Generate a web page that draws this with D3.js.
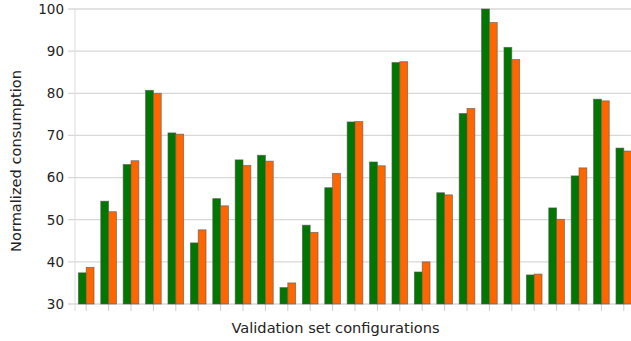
<!DOCTYPE html>
<html>
<head>
<meta charset="utf-8">
<script src="https://cdn.jsdelivr.net/npm/d3@7"></script>
<style>
  html, body { margin: 0; padding: 0; background: #fff; overflow: hidden; }
  svg { display: block; font-family: "DejaVu Sans", sans-serif; }
</style>
</head>
<body>
<svg id="chart" width="631" height="341"></svg>
<script>
const categories = d3.range(1, 26).map(String);
const seriesNames = ["A", "B"];
const seriesA = [37.4, 54.4, 63.1, 80.7, 70.6, 44.5, 55.0, 64.2, 65.3, 33.9, 48.7, 57.6, 73.2,
                 63.7, 87.3, 37.6, 56.4, 75.2, 100.0, 90.9, 36.9, 52.8, 60.4, 78.6, 67.0];
const seriesB = [38.7, 51.9, 64.0, 80.0, 70.3, 47.6, 53.3, 62.9, 63.9, 35.0, 47.0, 61.0, 73.3,
                 62.8, 87.5, 40.0, 55.9, 76.4, 96.8, 88.0, 37.1, 50.1, 62.3, 78.2, 66.3];
const yTicks = [30, 40, 50, 60, 70, 80, 90, 100];
const colors = ["#007700", "#ff6600"];

const svg = d3.select("#chart");
const mLeft = 75, mRight = 635, mTop = 9, mBottom = 304;

const x0 = d3.scaleBand().domain(categories).range([mLeft, mRight]).padding(0);
const x1 = d3.scaleBand().domain(seriesNames)
  .range([x0.bandwidth() * 0.15, x0.bandwidth() * 0.85]).padding(0);
const y = d3.scaleLinear().domain([30, 100]).range([mBottom, mTop]);

// gridlines
svg.append("g").selectAll("line").data(yTicks).join("line")
  .attr("x1", mLeft - 7).attr("x2", 631)
  .attr("y1", d => y(d)).attr("y2", d => y(d))
  .attr("stroke", "#d8d8d8").attr("stroke-width", 1.3);

// left axis line
svg.append("line").attr("x1", mLeft).attr("x2", mLeft)
  .attr("y1", mTop).attr("y2", mBottom + 7)
  .attr("stroke", "#dcdcdc").attr("stroke-width", 1);

// y tick labels
svg.append("g").selectAll("text").data(yTicks).join("text")
  .attr("x", mLeft - 11).attr("y", d => y(d)).attr("dy", "0.36em")
  .attr("text-anchor", "end").attr("font-size", 13.5).attr("fill", "#222")
  .text(d => d);

// bottom ticks
svg.append("g").selectAll("line").data(categories).join("line")
  .attr("x1", d => x0(d) + x0.bandwidth() / 2).attr("x2", d => x0(d) + x0.bandwidth() / 2)
  .attr("y1", mBottom).attr("y2", mBottom + 7)
  .attr("stroke", "#cccccc").attr("stroke-width", 1);

// bars
const data = categories.map((c, i) => ({ c, vals: [seriesA[i], seriesB[i]] }));
const groups = svg.append("g").selectAll("g").data(data).join("g")
  .attr("transform", d => `translate(${x0(d.c)},0)`);
groups.selectAll("rect").data(d => d.vals.map((v, k) => ({ v, s: seriesNames[k], k })))
  .join("rect")
  .attr("x", d => x1(d.s)).attr("width", x1.bandwidth())
  .attr("y", d => y(d.v)).attr("height", d => y(30) - y(d.v))
  .attr("fill", d => colors[d.k])
  .attr("stroke", "#555").attr("stroke-opacity", 0.7).attr("stroke-width", 0.8);

// axis labels
svg.append("text").attr("x", 335.5).attr("y", 333)
  .attr("text-anchor", "middle").attr("font-size", 14.6).attr("fill", "#222")
  .text("Validation set configurations");
svg.append("text").attr("transform", "translate(21,161) rotate(-90)")
  .attr("text-anchor", "middle").attr("font-size", 14.6).attr("fill", "#222")
  .text("Normalized consumption");
</script>
</body>
</html>
